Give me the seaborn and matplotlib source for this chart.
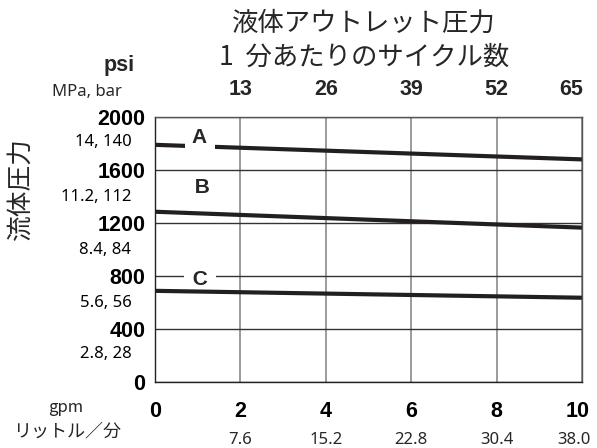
import numpy as np
import pandas as pd
import matplotlib
matplotlib.use('Agg')
import matplotlib.pyplot as plt
import matplotlib.transforms as mtransforms
import seaborn as sns

# ── Data ──────────────────────────────────────────────────────────────────────
flow_gpm   = [0, 10]
line_a_psi = [1790, 1680]
line_b_psi = [1285, 1165]
line_c_psi = [688, 636]

curve_names  = ['A', 'B', 'C']
label_x      = [1.05, 1.1, 1.05]
label_y      = [1845, 1465, 775]

gpm_ticks    = [0, 2, 4, 6, 8, 10]
cycle_ticks  = [2, 4, 6, 8, 10]
cycle_labels = ['13', '26', '39', '52', '65']
lpm_labels   = ['7.6', '15.2', '22.8', '30.4', '38.0']

psi_ticks    = [0, 400, 800, 1200, 1600, 2000]
mpa_ticks    = [230, 615, 1010, 1415, 1825]
mpa_labels   = ['2.8, 28', '5.6, 56', '8.4, 84', '11.2, 112', '14, 140']

df = pd.DataFrame({
    'gpm':   flow_gpm * 3,
    'psi':   line_a_psi + line_b_psi + line_c_psi,
    'curve': ['A'] * 2 + ['B'] * 2 + ['C'] * 2,
})

# ── Style ─────────────────────────────────────────────────────────────────────
sns.set_style('white')
plt.rcParams['font.family'] = ['Noto Sans CJK JP', 'DejaVu Sans']
BOLD = dict(fontfamily='Liberation Sans', fontweight='bold', fontsize=15.5)
REG  = dict(fontfamily='Noto Sans', fontsize=12)
INK  = '#231f20'

fig, ax = plt.subplots(figsize=(5.97, 4.48), dpi=100)
fig.subplots_adjust(left=155/597, right=582/597, top=1-117/448, bottom=1-382/448)

sns.lineplot(data=df, x='gpm', y='psi', hue='curve',
             palette={'A': INK, 'B': INK, 'C': INK},
             linewidth=3.0, legend=False, ax=ax, zorder=2)

ax.set_xlim(0, 10)
ax.set_ylim(0, 2000)
ax.set_xlabel('')
ax.set_ylabel('')

# grid: dark horizontals, grey verticals
ax.grid(axis='y', which='major', color='#333333', linewidth=1.0)
ax.grid(axis='x', which='major', color='#8a8a8a', linewidth=1.2)
for side in ['left', 'bottom']:
    ax.spines[side].set_color('#222222')
for side in ['top', 'right']:
    ax.spines[side].set_color('#555555')
for s in ax.spines.values():
    s.set_linewidth(1.0)

# ── Ticks ─────────────────────────────────────────────────────────────────────
ax.set_xticks(gpm_ticks, labels=[str(t) for t in gpm_ticks], **BOLD)
ax.set_yticks(psi_ticks, labels=[str(t) for t in psi_ticks], **BOLD)
ax.set_yticks(mpa_ticks, labels=mpa_labels, minor=True, **REG)
ax.tick_params(axis='x', which='major', length=0, pad=14, colors='black')
ax.tick_params(axis='y', which='major', length=0, pad=7, colors='black')
ax.tick_params(axis='y', which='minor', length=0, pad=17, colors='black')

top = ax.secondary_xaxis('top')
top.set_xticks(cycle_ticks, labels=cycle_labels, **BOLD)
top.tick_params(length=0, pad=12)
top.spines['top'].set_visible(False)

low = ax.secondary_xaxis('bottom')
low.set_xticks(cycle_ticks, labels=lpm_labels, **REG)
low.tick_params(length=0, pad=36)
low.spines['bottom'].set_visible(False)

# pull the right-most labels inside the figure like the original
def nudge(lbl, dx_px):
    lbl.set_transform(lbl.get_transform() +
                      mtransforms.ScaledTranslation(dx_px / 100, 0, fig.dpi_scale_trans))

nudge(top.get_xticklabels()[-1], -11)
nudge(low.get_xticklabels()[-1], -8)
nudge(ax.get_xticklabels()[-1], -4)

# ── Curve labels ──────────────────────────────────────────────────────────────
for name, lx, ly in zip(curve_names, label_x, label_y):
    z = 5 if name == 'A' else 1.5
    box = dict(facecolor='white', edgecolor='none', pad=2) if name != 'B' else None
    ax.text(lx, ly, f' {name} ', ha='center', va='center', zorder=z,
            bbox=box, **{**BOLD, 'fontsize': 15})

# ── Titles & axis captions ───────────────────────────────────────────────────
fig.text(364/597, 1-23/448, '液体アウトレット圧力', ha='center', va='center', fontsize=19)
fig.text(364/597, 1-57/448, '1  分あたりのサイクル数', ha='center', va='center', fontsize=19)
fig.text(21/597, 1-188/448, '流体圧力', rotation=90, ha='center', va='center', fontsize=18.5)
fig.text(135/597, 1-66/448, 'psi', ha='right', va='center', **BOLD)
fig.text(122/597, 1-92/448, 'MPa, bar', ha='right', va='center', **REG)
fig.text(66/597, 1-407/448, 'gpm', ha='center', va='center', fontsize=12)
fig.text(67/597, 1-431/448, 'リットル／分', ha='center', va='center', fontsize=13)

plt.savefig('out.png', dpi=100)
